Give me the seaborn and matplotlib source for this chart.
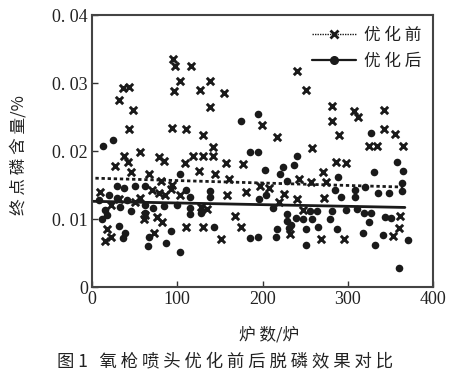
import numpy as np
import pandas as pd
import matplotlib
matplotlib.use("Agg")
import matplotlib.pyplot as plt
from matplotlib.lines import Line2D
import seaborn as sns

# ---- data ----
before_x = [94.6, 97.3, 116.1, 103.2, 95.8, 138.7, 126.6, 154.7, 138.7, 36.7,
            43.4, 31.7, 47.7, 43.0, 93.8, 110.2, 129.8, 142.2, 198.9, 240.7,
            250.9, 281.0, 307.2, 312.2, 342.1, 281.0, 289.9, 216.5, 342.7, 356.0,
            325.1, 333.8, 364.9, 257.9, 56.6, 37.9, 42.2, 26.6, 78.2, 84.1,
            46.1, 66.5, 81.2, 93.8, 92.6, 9.7, 70.3, 78.2, 85.2, 22.6,
            31.3, 50.8, 56.6, 61.8, 60.6, 76.2, 82.1, 17.6, 22.6, 14.9,
            72.3, 118.4, 130.1, 141.9, 108.7, 125.4, 144.5, 157.4, 177.0, 160.3,
            196.6, 158.6, 180.9, 102.8, 127.4, 135.2, 168.0, 110.6, 130.1, 175.0,
            151.6, 285.7, 297.4, 271.2, 242.7, 256.4, 274.0, 207.5, 225.1, 219.2,
            240.0, 272.0, 247.7, 232.1, 268.8, 295.4, 361.1, 360.3, 352.5]
before_y = [0.03354, 0.03255, 0.03245, 0.03034, 0.02876, 0.03034, 0.02901, 0.02853, 0.02650, 0.02926,
            0.02941, 0.02754, 0.02606, 0.02330, 0.02341, 0.02322, 0.02242, 0.02065, 0.02385, 0.03181,
            0.02901, 0.02655, 0.02591, 0.02498, 0.02599, 0.02434, 0.02242, 0.02204, 0.02322, 0.02248,
            0.02080, 0.02080, 0.02080, 0.02046, 0.01982, 0.01928, 0.01844, 0.01780, 0.01917, 0.01858,
            0.01687, 0.01662, 0.01563, 0.01500, 0.01437, 0.01401, 0.01426, 0.01386, 0.01353, 0.01205,
            0.01289, 0.01254, 0.01304, 0.01058, 0.00994, 0.01032, 0.00959, 0.00847, 0.00737, 0.00678,
            0.00788, 0.01928, 0.01928, 0.01928, 0.01829, 0.01711, 0.01662, 0.01820, 0.01810, 0.01584,
            0.01485, 0.01353, 0.01401, 0.01353, 0.01180, 0.01142, 0.01043, 0.00876, 0.00876, 0.00876,
            0.00699, 0.01844, 0.01829, 0.01687, 0.01588, 0.01540, 0.01549, 0.01460, 0.01363, 0.01254,
            0.01294, 0.01313, 0.01131, 0.00773, 0.00699, 0.00708, 0.01043, 0.00861, 0.00748]

after_x = [13.2, 25.0, 174.7, 195.0, 326.7, 29.3, 37.9, 50.8, 61.8, 103.5,
           19.6, 29.3, 41.0, 7.9, 62.5, 71.5, 84.1, 99.6, 14.9, 33.2,
           46.1, 61.8, 11.7, 17.6, 31.3, 39.0, 36.0, 93.0, 67.2, 65.7,
           87.1, 103.5, 184.9, 194.6, 203.2, 110.6, 114.5, 138.0, 138.0, 195.8,
           204.3, 114.5, 114.5, 127.4, 143.0, 184.9, 194.6, 240.0, 236.8, 224.3,
           220.4, 228.3, 288.4, 284.9, 291.6, 212.5, 255.6, 263.4, 281.7, 297.4,
           229.0, 228.3, 238.8, 247.7, 258.3, 232.9, 230.9, 279.0, 216.5, 215.4,
           250.5, 265.0, 286.9, 250.5, 357.2, 365.0, 330.6, 363.1, 320.0, 335.6,
           348.5, 363.8, 308.3, 308.3, 310.3, 318.9, 326.7, 325.1, 343.5, 351.3,
           317.4, 340.8, 331.8, 370.8, 360.3]
after_y = [0.02075, 0.02159, 0.02444, 0.02547, 0.02271, 0.01485, 0.01451, 0.01485, 0.01485, 0.01662,
           0.01353, 0.01304, 0.01279, 0.01279, 0.01205, 0.01156, 0.01195, 0.01205, 0.01131, 0.01180,
           0.01117, 0.01091, 0.00994, 0.01058, 0.00895, 0.00788, 0.00723, 0.00826, 0.00737, 0.00600,
           0.00640, 0.00516, 0.01982, 0.01982, 0.01721, 0.01426, 0.01327, 0.01416, 0.01319, 0.01294,
           0.01353, 0.01156, 0.01072, 0.01083, 0.00885, 0.00723, 0.00729, 0.01928, 0.01795, 0.01770,
           0.01658, 0.01563, 0.01614, 0.01426, 0.01319, 0.01165, 0.01121, 0.01121, 0.01117, 0.01131,
           0.01072, 0.00969, 0.01009, 0.00994, 0.00994, 0.00910, 0.00861, 0.00994, 0.00847, 0.00729,
           0.00851, 0.00876, 0.00847, 0.00615, 0.01844, 0.01711, 0.01696, 0.01534, 0.01466, 0.01378,
           0.01378, 0.01416, 0.01426, 0.01319, 0.01142, 0.01091, 0.01083, 0.00959, 0.01024, 0.01009,
           0.00796, 0.00763, 0.00615, 0.00689, 0.00280]

# trend lines (end points)
before_fit_x = [4, 365]
before_fit_y = [0.0160, 0.0147]
after_fit_x = [1, 367]
after_fit_y = [0.0126, 0.0117]

series_names = ["优 化 前", "优 化 后"]
x_ticks = [0, 100, 200, 300, 400]
y_ticks = [0, 0.01, 0.02, 0.03, 0.04]
y_tick_labels = ["0", "0. 01", "0. 02", "0. 03", "0. 04"]
x_label = "炉 数/炉"
y_label = "终 点 磷 含 量/%"
caption = "图 1   氧 枪 喷 头 优 化 前 后 脱 磷 效 果 对 比"

# ---- drawing ----
sns.set_style("ticks")
cjk = ["Noto Sans CJK SC", "DejaVu Sans"]
plt.rcParams["font.family"] = cjk

fig = plt.figure(figsize=(4.54, 3.79), dpi=100)
ax = fig.add_axes([92 / 454, (379 - 287) / 379, 341 / 454, 272 / 379])

df_b = pd.DataFrame({"x": before_x, "y": before_y})
df_a = pd.DataFrame({"x": after_x, "y": after_y})
fit_b = pd.DataFrame({"x": before_fit_x, "y": before_fit_y})
fit_a = pd.DataFrame({"x": after_fit_x, "y": after_fit_y})

ink = "#1a1a1a"
sns.scatterplot(data=df_b, x="x", y="y", marker="x", s=28, linewidth=2.1,
                color=ink, ax=ax, legend=False, zorder=3)
sns.scatterplot(data=df_a, x="x", y="y", marker="o", s=30, linewidth=0,
                color=ink, ax=ax, legend=False, zorder=3)
sns.lineplot(data=fit_b, x="x", y="y", color=ink, linewidth=2.0,
             linestyle=(0, (1.2, 1.0)), ax=ax, legend=False, zorder=2)
sns.lineplot(data=fit_a, x="x", y="y", color=ink, linewidth=2.0,
             linestyle="-", ax=ax, legend=False, zorder=2)

ax.set_xlim(0, 400)
ax.set_ylim(0, 0.04)
ax.set_xticks(x_ticks)
ax.set_xticklabels([str(v) for v in x_ticks])
ax.set_yticks(y_ticks)
ax.set_yticklabels(y_tick_labels)
for lbl in ax.get_xticklabels() + ax.get_yticklabels():
    lbl.set_fontfamily(["Liberation Serif"])
    lbl.set_fontsize(13)
    lbl.set_color("#222222")
ax.tick_params(direction="in", length=4, width=1.0, color="#333333", pad=3)
for sp in ax.spines.values():
    sp.set_linewidth(1.5)
    sp.set_color("#444444")
    sp.set_visible(True)

ax.set_xlabel(x_label, fontsize=12, family=cjk, color="#222222")
ax.set_ylabel(y_label, fontsize=12, family=cjk, color="#222222")
ax.xaxis.set_label_coords((269 - 92) / 341, (287 - 335) / 272)
ax.yaxis.set_label_coords((19 - 92) / 341, (287 - 155) / 272)
ax.xaxis.label.set_va("center")
ax.yaxis.label.set_va("center")

handles = [
    Line2D([], [], color=ink, linestyle=(0, (1.0, 0.8)), linewidth=1.0,
           marker="x", markersize=5.5, markeredgewidth=2.0),
    Line2D([], [], color=ink, linestyle="-", linewidth=1.6,
           marker="o", markersize=5.5),
]
leg = ax.legend(handles, series_names, loc="upper right",
                frameon=False, fontsize=12, handlelength=2.6,
                handletextpad=0.5, labelspacing=0.55,
                bbox_to_anchor=(1.0, 1.0), borderaxespad=0.3)
for t in leg.get_texts():
    t.set_color("#222222")

fig.text(225 / 454, 1 - 361 / 379, caption, ha="center", va="center",
         fontsize=12.5, family=cjk, color="#222222")

fig.savefig("out.png", dpi=100, facecolor="white")
